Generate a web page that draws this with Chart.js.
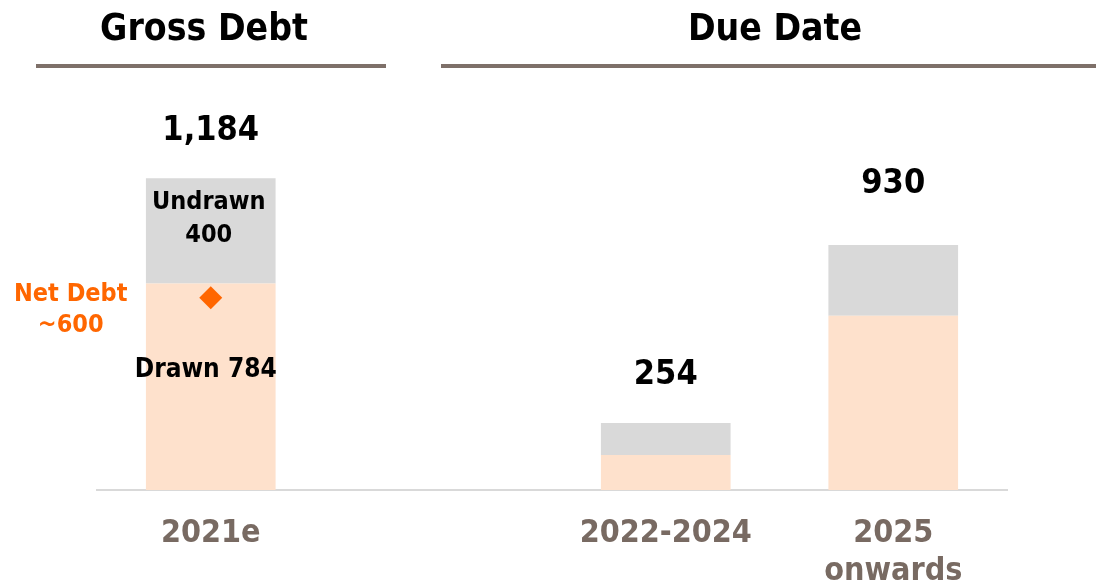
<!DOCTYPE html>
<html>
<head>
<meta charset="utf-8">
<script src="https://cdn.jsdelivr.net/npm/chart.js@4"></script>
<style>
  body { margin: 0; background: #fff; }
  #wrap { width: 1096px; height: 585px; position: relative; }
</style>
</head>
<body>
<div id="wrap"><canvas id="debt-chart"></canvas></div>
<script>
// Chart data
const categories = [["2021e"], [""], ["2022-2024"], ["2025", "onwards"]];
const drawnValues = [784, null, 133, 662];
const undrawnValues = [400, null, 121, 268];
const totalLabels = ["1,184", "", "254", "930"];
const netDebtValues = [730, null, null, null];

const FONT = "'DejaVu Sans Condensed', 'DejaVu Sans', sans-serif";
const BROWN = "#786a62";
const ORANGE = "#ff6600";

// Draws headers, totals and the text inside the first bar
const textPlugin = {
  id: "debtText",
  afterDraw(chart) {
    const ctx = chart.ctx;
    const x = chart.scales.x;
    const y = chart.scales.y;
    ctx.save();
    ctx.textAlign = "center";
    ctx.textBaseline = "alphabetic";

    // section headers and their rules
    ctx.fillStyle = "#000";
    ctx.font = "bold 37px " + FONT;
    ctx.fillText("Gross Debt", 204, 40);
    ctx.fillText("Due Date", 775, 40);
    ctx.fillStyle = "#7e7069";
    ctx.fillRect(36, 64, 350, 4);
    ctx.fillRect(441, 64, 655, 4);

    // totals above the bars
    const raise = [38, 0, 39, 52];
    ctx.fillStyle = "#000";
    ctx.font = "bold 34px " + FONT;
    totalLabels.forEach((txt, i) => {
      if (!txt) return;
      const total = (drawnValues[i] || 0) + (undrawnValues[i] || 0);
      ctx.fillText(txt, x.getPixelForValue(i), y.getPixelForValue(total) - raise[i]);
    });

    // labels inside the 2021e bar
    const cx = x.getPixelForValue(0);
    ctx.font = "bold 25px " + FONT;
    const undrawnMid = y.getPixelForValue(drawnValues[0] + undrawnValues[0] / 2);
    ctx.fillText("Undrawn", cx - 2, undrawnMid - 22);
    ctx.fillText(String(undrawnValues[0]), cx - 2, undrawnMid + 11);
    ctx.font = "bold 26px " + FONT;
    const drawnMid = y.getPixelForValue(drawnValues[0] / 2);
    ctx.fillText("Drawn " + drawnValues[0], cx - 5, drawnMid - 10);

    // net debt callout
    ctx.fillStyle = ORANGE;
    ctx.font = "bold 25px " + FONT;
    const nd = y.getPixelForValue(netDebtValues[0]);
    ctx.fillText("Net Debt", cx - 140, nd + 3);
    ctx.fillText("~600", cx - 140, nd + 34);
    ctx.restore();
  }
};

new Chart("debt-chart", {
  type: "bar",
  data: {
    labels: categories,
    datasets: [
      {
        type: "line",
        label: "Net Debt",
        data: netDebtValues,
        showLine: false,
        pointStyle: "rectRot",
        pointRadius: 11.5,
        pointBackgroundColor: ORANGE,
        pointBorderWidth: 0,
        order: 0,
      },
      {
        label: "Drawn",
        data: drawnValues,
        backgroundColor: "#fee1cc",
        stack: "debt",
        order: 1,
      },
      {
        label: "Undrawn",
        data: undrawnValues,
        backgroundColor: "#d9d9d9",
        stack: "debt",
        order: 1,
      },
    ],
  },
  options: {
    responsive: true,
    maintainAspectRatio: false,
    animation: false,
    layout: { padding: { top: 95, left: 97, right: 89, bottom: 0 } },
    datasets: {
      bar: { categoryPercentage: 1, barPercentage: 0.57 },
    },
    plugins: {
      legend: { display: false },
      tooltip: { enabled: false },
    },
    scales: {
      x: {
        stacked: true,
        grid: { display: false },
        border: { display: true, color: "#d9d9d9", width: 2 },
        ticks: {
          color: BROWN,
          font: { family: FONT, size: 32, weight: "bold", lineHeight: 1.2 },
          padding: 16,
          maxRotation: 0,
          autoSkip: false,
        },
        afterFit(scale) {
          scale.height = 95;
        },
      },
      y: {
        display: false,
        stacked: true,
        min: 0,
        max: 1500,
      },
    },
  },
  plugins: [textPlugin],
});
</script>
</body>
</html>
